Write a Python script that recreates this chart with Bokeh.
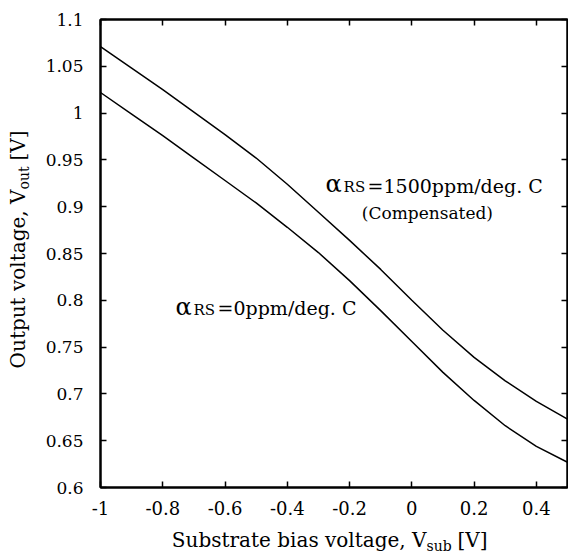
import math
from bokeh.plotting import figure
from bokeh.models import Label, LinearAxis, FixedTicker, Range1d
from bokeh.layouts import row, column
from bokeh.embed import file_html
from bokeh.resources import INLINE

# ---- data ----
vsub = [-1.0, -0.9, -0.8, -0.7, -0.6, -0.5, -0.4, -0.3, -0.2, -0.1,
        0.0, 0.1, 0.2, 0.3, 0.4, 0.5]
vout_1500ppm = [1.071, 1.048, 1.025, 1.001, 0.977, 0.952, 0.924, 0.894,
                0.864, 0.833, 0.800, 0.768, 0.739, 0.714, 0.692, 0.673]
vout_0ppm = [1.022, 0.999, 0.976, 0.952, 0.928, 0.904, 0.878, 0.851,
             0.821, 0.789, 0.756, 0.723, 0.693, 0.666, 0.644, 0.627]

x_ticks = [-1.0, -0.8, -0.6, -0.4, -0.2, 0.0, 0.2, 0.4]
x_tick_labels = ["-1", "-0.8", "-0.6", "-0.4", "-0.2", "0", "0.2", "0.4"]
y_ticks = [0.6, 0.65, 0.7, 0.75, 0.8, 0.85, 0.9, 0.95, 1.0, 1.05, 1.1]
y_tick_labels = ["0.6", "0.65", "0.7", "0.75", "0.8", "0.85", "0.9",
                 "0.95", "1", "1.05", "1.1"]

FONT = "DejaVu Serif"

YW = 32          # width of the strip holding the y-axis title
MAIN_H = 525     # height of main figure

p = figure(width=568 - YW, height=MAIN_H, x_range=Range1d(-1, 0.5),
           y_range=Range1d(0.6, 1.1), output_backend="svg",
           toolbar_location=None, min_border_left=100 - YW, min_border_right=1,
           min_border_top=19, min_border_bottom=MAIN_H - 487)
p.xgrid.visible = False
p.ygrid.visible = False
p.outline_line_color = "black"
p.outline_line_width = 2
p.outline_line_alpha = 1.0
p.background_fill_color = "white"
p.border_fill_color = "white"

p.line(vsub, vout_1500ppm, line_color="black", line_width=1.5)
p.line(vsub, vout_0ppm, line_color="black", line_width=1.5)

xt = FixedTicker(ticks=x_ticks)
yt = FixedTicker(ticks=y_ticks)


def style(ax, ticker, labels, ticks, show, standoff, size="17px"):
    ax.ticker = ticker
    ax.axis_line_color = "black"
    ax.axis_line_width = 2
    ax.major_tick_in = 6
    ax.major_tick_out = 0
    ax.major_tick_line_width = 1.5
    ax.major_tick_line_color = "black"
    ax.minor_tick_line_color = None
    ax.axis_label = None
    if show:
        ax.major_label_overrides = {t: s for t, s in zip(ticks, labels)}
        ax.major_label_text_font = FONT
        ax.major_label_text_font_size = size
        ax.major_label_text_color = "black"
        ax.major_label_standoff = standoff
    else:
        ax.major_label_overrides = {t: "" for t in ticks}
        ax.major_label_text_font_size = "0px"
        ax.major_label_standoff = 0


style(p.xaxis[0], xt, x_tick_labels, x_ticks, True, 13, "18px")
style(p.yaxis[0], yt, y_tick_labels, y_ticks, True, 17, "17px")
top_ax = LinearAxis()
right_ax = LinearAxis()
style(top_ax, xt, x_tick_labels, x_ticks, False, 0)
style(right_ax, yt, y_tick_labels, y_ticks, False, 0)
p.add_layout(top_ax, "above")
p.add_layout(right_ax, "right")

SHIFT = 0.36  # compensation (in em) so that the anchor is the text baseline


def lab(fig, x, y, text, size, align="left", rotated=False, xo=0, yo=0,
        units="data"):
    comp = SHIFT * size
    if rotated:
        xo -= comp
        angle = math.pi / 2
    else:
        yo += comp
        angle = 0.0
    fig.add_layout(Label(x=x, y=y, text=text, text_font=FONT,
                         text_font_size=f"{size}px", text_color="black",
                         text_align=align, text_baseline="alphabetic",
                         angle=angle, x_offset=xo, y_offset=yo,
                         x_units=units, y_units=units))


# annotation: alpha_RS = 1500 ppm
lab(p, -0.277, 0.915, "\u03b1", 24)
lab(p, -0.277, 0.915, "RS", 15, xo=18)
lab(p, -0.277, 0.915, "=1500ppm/deg. C", 19, xo=42)
lab(p, 0.05, 0.887, "(Compensated)", 17, align="center")

# annotation: alpha_RS = 0 ppm
lab(p, -0.759, 0.784, "\u03b1", 24)
lab(p, -0.759, 0.784, "RS", 15, xo=18)
lab(p, -0.759, 0.784, "=0ppm/deg. C", 19, xo=42)


def strip(w, h):
    f = figure(width=w, height=h, x_axis_type=None, y_axis_type=None,
               output_backend="svg", toolbar_location=None,
               min_border=0, x_range=Range1d(0, 1), y_range=Range1d(0, 1))
    f.outline_line_color = None
    f.xgrid.visible = False
    f.ygrid.visible = False
    f.background_fill_color = "white"
    f.border_fill_color = "white"
    return f


# y axis title strip (rotated text)
yfig = strip(YW, MAIN_H)
lab(yfig, 25, 189, "Output voltage, V", 20, align="right", rotated=True,
    units="canvas")
lab(yfig, 25, 189, "out", 14, rotated=True, xo=4, units="canvas")
lab(yfig, 25, 189, "[V]", 20, rotated=True, yo=29, units="canvas")

# x axis title strip
xfig = strip(568, 553 - MAIN_H)
lab(xfig, 426, 22, "Substrate bias voltage, V", 20, align="right",
    units="canvas")
lab(xfig, 426, 22, "sub", 14, yo=-4, units="canvas")
lab(xfig, 426, 22, "[V]", 20, xo=31, units="canvas")

layout = column(row(yfig, p), xfig)
open("out.html", "w").write(file_html(layout, INLINE))
